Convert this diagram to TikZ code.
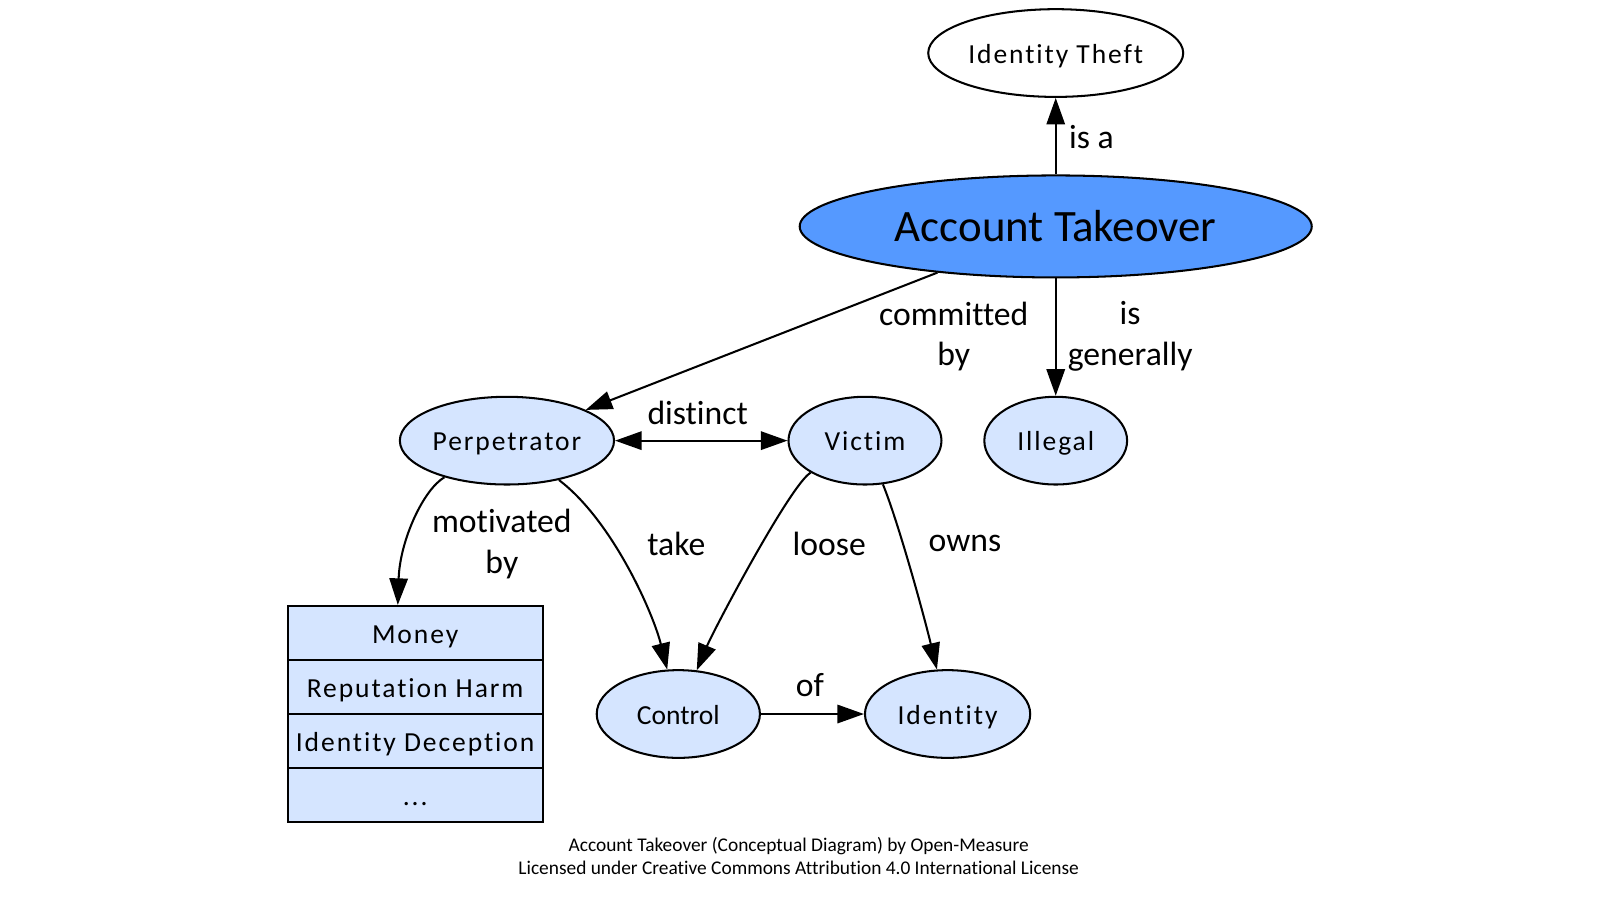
\documentclass[tikz,border=0pt]{standalone}
\usepackage{fontspec}
\setmainfont{Carlito}[Ligatures=CommonOff]
\newfontfamily\spacedfont{Carlito}[LetterSpace=7,Ligatures=CommonOff]
\usetikzlibrary{shapes.geometric,arrows.meta}
\definecolor{atblue}{HTML}{5599FF}
\definecolor{lightblue}{HTML}{D5E5FF}
\begin{document}
\begin{tikzpicture}[x=1pt,y=-1pt,
  concept/.style={ellipse,draw,line width=2pt,inner sep=0pt,fill=lightblue,minimum height=86pt,
    text height=20pt,text depth=0pt,font=\spacedfont\fontsize{27}{32}\selectfont},
  edge/.style={line width=2pt,-{Triangle[length=26pt,width=18pt]}},
  biedge/.style={line width=2pt,{Triangle[length=26pt,width=18pt]}-{Triangle[length=26pt,width=18pt]}},
  lbl/.style={font=\fontsize{33}{40}\selectfont,align=center,inner sep=0pt},
  row/.style={draw,rectangle,line width=2pt,fill=lightblue,minimum width=250pt,minimum height=53pt,
    inner sep=0pt,text height=20pt,text depth=0pt,font=\spacedfont\fontsize{27}{32}\selectfont},
  foot/.style={font=\fontsize{19}{23}\selectfont,align=center,inner sep=0pt}
]
\useasboundingbox (0,0) rectangle (1568.6,882.4);

% nodes
\node[concept,fill=white,minimum width=250pt] (theft) at (1035,52) {Identity Theft};
\node[concept,fill=atblue,minimum width=502pt,minimum height=100pt,text height=30pt,font=\fontsize{44}{50}\selectfont] (ato) at (1035,222) {Account Takeover};
\node[concept,minimum width=210pt] (perp) at (497,432) {Perpetrator};
\node[concept,minimum width=150pt] (victim) at (848,432) {Victim};
\node[concept,minimum width=140pt] (illegal) at (1035,432) {Illegal};
\node[concept,minimum width=160pt,font=\fontsize{27}{32}\selectfont] (control) at (665,700) {Control};
\node[concept,minimum width=162pt] (identity) at (929,700) {Identity};

\node[row] (money) at (407,620.5) {Money};
\node[row] (rep) at (407,673.5) {Reputation Harm};
\node[row] (idd) at (407,726.5) {Identity Deception};
\node[row] (etc) at (407,779.5) {...};

% edges
\draw[edge] (ato) -- (theft);
\draw[edge] (ato) -- (illegal);
\draw[edge] (ato) -- (perp);
\draw[biedge] (perp) -- (victim);
\draw[edge] (control) -- (identity);
\draw[edge] (perp) .. controls (415,480) and (392,530) .. ([xshift=-17pt]money.north);
\draw[edge] (perp) .. controls (600,510) and (640,600) .. (control);
\draw[edge] (victim) .. controls (775,475) and (700,617) .. (control);
\draw[edge] (victim) .. controls (880,510) and (905,600) .. (identity);

% labels
\node[lbl] (l1) at (1070,134) {is a};
\node[lbl] (l2) at (935,330) {committed\\by};
\node[lbl] (l3) at (1108,330) {is\\generally};
\node[lbl] (l4) at (684,405) {distinct};
\node[lbl] (l5) at (492,533) {motivated\\by};
\node[lbl] (l6) at (663,533) {take};
\node[lbl] (l7) at (813,533) {loose};
\node[lbl] (l8) at (946,533) {owns};
\node[lbl] (l9) at (794,672) {of};

% footer
\node[foot] (footer) at (783,839) {Account Takeover (Conceptual Diagram) by Open-Measure\\Licensed under Creative Commons Attribution 4.0 International License};
\end{tikzpicture}
\end{document}
